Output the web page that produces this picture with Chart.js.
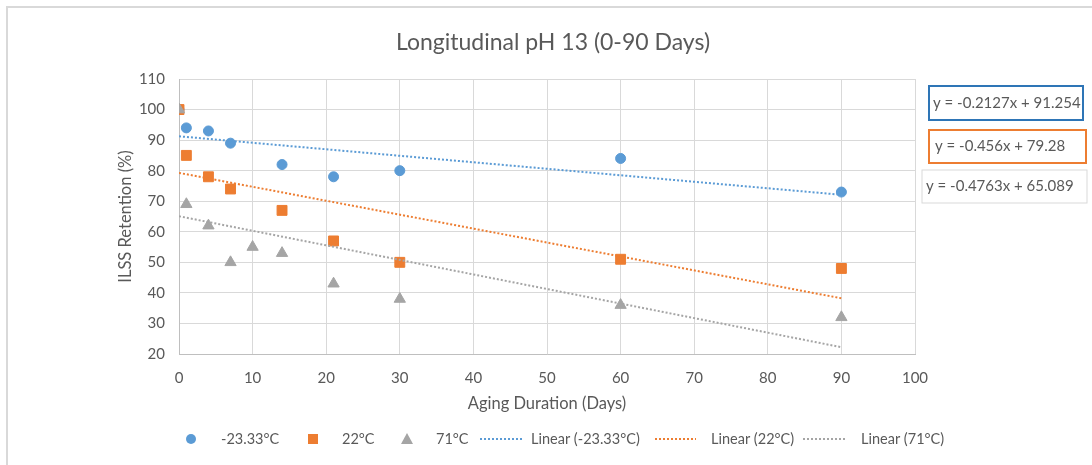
<!DOCTYPE html>
<html>
<head>
<meta charset="utf-8">
<title>Longitudinal pH 13 (0-90 Days)</title>
<script src="https://cdn.jsdelivr.net/npm/chart.js@4.4.1/dist/chart.umd.min.js"></script>
<style>
  html, body { margin: 0; padding: 0; background: #fff; }
  canvas { display: block; }
</style>
</head>
<body>
<canvas id="chart" width="1092" height="465"></canvas>
<script>
const chartTitle   = 'Longitudinal pH 13 (0-90 Days)';
const seriesLabels = ['-23.33°C', '22°C', '71°C'];

const coldDays   = [0, 1, 4, 7, 14, 21, 30, 60, 90];
const coldValues = [100, 94, 93, 89, 82, 78, 80, 84, 73];

const roomDays   = [0, 1, 4, 7, 14, 21, 30, 60, 90];
const roomValues = [100, 85, 78, 74, 67, 57, 50, 51, 48];

const hotDays    = [0, 1, 4, 7, 10, 14, 21, 30, 60, 90];
const hotValues  = [100, 69, 62, 50, 55, 53, 43, 38, 36, 32];

// trendline equations as printed on the chart
const slopes     = [-0.2127, -0.456, -0.4763];
const intercepts = [91.254, 79.28, 65.089];
const trendRange = [0, 90];

const xTicks = { min: 0, max: 100, step: 10 };
const yTicks = { min: 20, max: 110, step: 10 };

// — Styles —
const colors   = ['#5b9bd5', '#ed7d31', '#a5a5a5'];
const boxEdges = ['#2e75b6', '#ed7d31', '#d9d9d9'];
const textGrey = '#595959';
const FONT     = 'Lato, "Open Sans", sans-serif';

const toPoints = (xs, ys) => xs.map((x, i) => ({ x, y: ys[i] }));
const trendPoints = i => trendRange.map(x => ({ x, y: slopes[i] * x + intercepts[i] }));
const equation = i => `y = ${slopes[i]}x + ${intercepts[i]}`;

const scatterSets = [
  { label: seriesLabels[0], data: toPoints(coldDays, coldValues), pointStyle: 'circle',   pointRadius: 5,   order: 3 },
  { label: seriesLabels[1], data: toPoints(roomDays, roomValues), pointStyle: 'rect',     pointRadius: 7,   order: 2 },
  { label: seriesLabels[2], data: toPoints(hotDays, hotValues),   pointStyle: 'triangle', pointRadius: 6.5, order: 1 }
].map((d, i) => Object.assign(d, {
  type: 'scatter',
  backgroundColor: colors[i],
  borderColor: colors[i],
  borderWidth: 1,
  pointHoverRadius: d.pointRadius
}));

const trendSets = seriesLabels.map((l, i) => ({
  type: 'line',
  label: `Linear (${l})`,
  data: trendPoints(i),
  borderColor: colors[i],
  borderWidth: 2,
  borderDash: [2, 2],
  pointRadius: 0,
  fill: false,
  order: 0
}));

// — Title, legend + equation boxes, placed the way Excel did —
const legendSpots = [
  { mark: 191, text: 221 },
  { mark: 313, text: 342 },
  { mark: 407, text: 436 },
  { from: 480, to: 523, text: 531 },
  { from: 655, to: 696, text: 711 },
  { from: 803, to: 845, text: 861 }
];
const eqBoxes = [
  { x: 929, y: 86,  w: 154, h: 34, tx: 933 },
  { x: 929, y: 130, w: 157, h: 33, tx: 935 },
  { x: 922, y: 170, w: 165, h: 33, tx: 926 }
];

const excelDecor = {
  id: 'excelDecor',
  beforeDraw(chart) {
    const ctx = chart.ctx;
    ctx.save();
    ctx.fillStyle = '#fff';
    ctx.fillRect(0, 0, chart.width, chart.height);
    ctx.strokeStyle = '#d9d9d9';
    ctx.lineWidth = 2;
    ctx.beginPath();
    ctx.moveTo(7, chart.height);
    ctx.lineTo(7, 7);
    ctx.lineTo(chart.width, 7);
    ctx.stroke();
    ctx.restore();
  },
  afterDraw(chart) {
    const ctx = chart.ctx;
    ctx.save();
    ctx.textBaseline = 'middle';

    // chart title
    ctx.font = `23px ${FONT}`;
    ctx.fillStyle = textGrey;
    ctx.textAlign = 'center';
    ctx.fillText(chartTitle, 553, 43);
    ctx.textAlign = 'left';

    // legend
    const ly = 439;
    ctx.font = `14.5px ${FONT}`;
    const items = scatterSets.concat(trendSets);
    items.forEach((ds, i) => {
      const s = legendSpots[i];
      ctx.fillStyle = ds.borderColor;
      ctx.strokeStyle = ds.borderColor;
      if (i === 0) {
        ctx.beginPath(); ctx.arc(s.mark, ly, 5, 0, Math.PI * 2); ctx.fill();
      } else if (i === 1) {
        ctx.fillRect(s.mark - 5, ly - 5, 10, 10);
      } else if (i === 2) {
        ctx.beginPath();
        ctx.moveTo(s.mark, ly - 6); ctx.lineTo(s.mark + 6, ly + 5); ctx.lineTo(s.mark - 6, ly + 5);
        ctx.closePath(); ctx.fill();
      } else {
        ctx.lineWidth = 2;
        ctx.setLineDash([2, 2]);
        ctx.beginPath(); ctx.moveTo(s.from, ly); ctx.lineTo(s.to, ly); ctx.stroke();
        ctx.setLineDash([]);
      }
      ctx.fillStyle = textGrey;
      ctx.fillText(ds.label, s.text, ly);
    });

    // trendline equations
    ctx.font = `15px ${FONT}`;
    eqBoxes.forEach((b, i) => {
      ctx.fillStyle = '#fff';
      ctx.fillRect(b.x, b.y, b.w, b.h);
      ctx.strokeStyle = boxEdges[i];
      ctx.lineWidth = i === 2 ? 1 : 2;
      ctx.strokeRect(b.x, b.y, b.w, b.h);
      ctx.fillStyle = textGrey;
      ctx.fillText(equation(i), b.tx, b.y + b.h / 2);
    });
    ctx.restore();
  }
};

new Chart(document.getElementById('chart'), {
  data: { datasets: scatterSets.concat(trendSets) },
  plugins: [excelDecor],
  options: {
    responsive: false,
    animation: false,
    devicePixelRatio: 1,
    layout: { padding: { top: 79, left: 112, right: 177, bottom: 47 } },
    plugins: {
      legend: { display: false },
      tooltip: { enabled: false },
      title: { display: false }
    },
    scales: {
      x: {
        type: 'linear',
        min: xTicks.min, max: xTicks.max,
        ticks: { stepSize: xTicks.step, color: textGrey, padding: 15, font: { family: FONT, size: 15 } },
        grid: { color: '#d9d9d9', drawTicks: false },
        border: { color: '#bfbfbf' },
        title: {
          display: true, text: 'Aging Duration (Days)', color: textGrey,
          font: { family: FONT, size: 16.5 }, padding: { top: 4, bottom: 4 }
        },
        afterFit(scale) { scale.height = 64; }
      },
      y: {
        type: 'linear',
        min: yTicks.min, max: yTicks.max,
        ticks: { stepSize: yTicks.step, color: textGrey, padding: 14, font: { family: FONT, size: 15 } },
        grid: { color: '#d9d9d9', drawTicks: false },
        border: { color: '#bfbfbf' },
        title: {
          display: true, text: 'ILSS Retention (%)', color: textGrey,
          font: { family: FONT, size: 16.5 }, padding: { top: 4, bottom: 4 }
        },
        afterFit(scale) { scale.width = 67; }
      }
    }
  }
});
</script>
</body>
</html>
